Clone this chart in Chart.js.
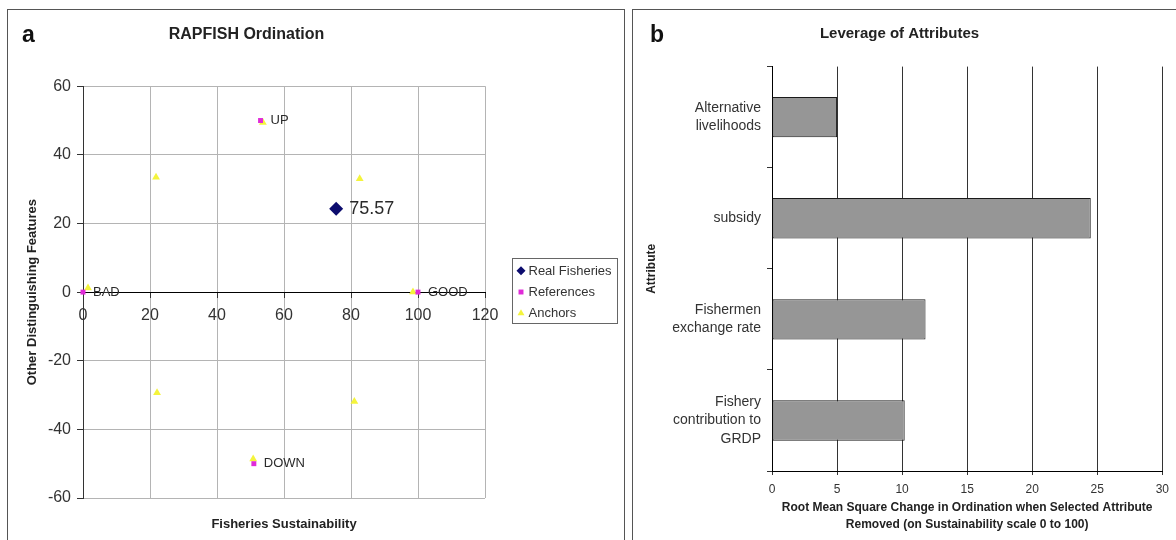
<!DOCTYPE html>
<html lang="en">
<head>
<meta charset="UTF-8">
<title>RAPFISH Ordination and Leverage of Attributes</title>
<script src="https://cdn.jsdelivr.net/npm/chart.js"></script>
<style>
    body {
        margin: 0;
        background: #fff;
        font-family: "Liberation Sans", Arial, sans-serif;
    }
    .panel {
        position: absolute;
        border: 1px solid #555;
        background: #fff;
    }
    .panel canvas {
        display: block;
    }
    .tag {
        position: absolute;
        font-weight: bold;
        font-size: 23px;
        line-height: 23px;
        color: #111;
    }
</style>
</head>
<body>
<div class="panel" style="left:7px; top:9px; width:616px; height:540px;">
    <canvas id="ordination" width="616" height="530"></canvas>
    <div class="tag" style="left:14px; top:13px;">a</div>
</div>
<div class="panel" style="left:632px; top:9px; width:560px; height:540px;">
    <canvas id="leverage" width="543" height="530"></canvas>
    <div class="tag" style="left:17px; top:13px;">b</div>
</div>

<script>
    // ordination (panel a)
    var realX = [75.57];
    var realY = [24.3];
    var realLabels = ['75.57'];

    var refX = [0, 100, 53, 51];
    var refY = [0, 0, 50, -50];
    var refLabels = ['BAD', 'GOOD', 'UP', 'DOWN'];

    var anchorX = [1.5, 98.5, 53.7, 50.8, 21.8, 82.6, 22.1, 81.0];
    var anchorY = [1.2, 0, 49.4, -48.6, 33.5, 33.0, -29.3, -31.9];

    var xTicks = [0, 20, 40, 60, 80, 100, 120];
    var yTicks = [-60, -40, -20, 0, 20, 40, 60];

    // leverage (panel b)
    var attributes = [
        ['Alternative', 'livelihoods'],
        'subsidy',
        ['Fishermen', 'exchange rate'],
        ['Fishery', 'contribution to', 'GRDP']
    ];
    var leverage = [5.0, 24.5, 11.8, 10.2];
    var leverageTicks = [0, 5, 10, 15, 20, 25, 30];

    Chart.defaults.font.family = '"Liberation Sans", Arial, sans-serif';
    Chart.defaults.color = '#333';
    Chart.defaults.animation = false;

    function points(xs, ys) {
        return xs.map(function (x, i) { return { x: x, y: ys[i] }; });
    }

    // text next to the labelled points
    var pointLabels = {
        id: 'pointLabels',
        afterDatasetsDraw: function (chart) {
            var ctx = chart.ctx;
            chart.data.datasets.forEach(function (ds, i) {
                if (!ds.pointLabels) return;
                var meta = chart.getDatasetMeta(i);
                ctx.save();
                ctx.font = ds.labelFont;
                ctx.fillStyle = '#2a2a2a';
                ctx.textBaseline = 'middle';
                ctx.textAlign = 'left';
                meta.data.forEach(function (pt, j) {
                    if (ds.pointLabels[j]) ctx.fillText(ds.pointLabels[j], pt.x + ds.labelGap, pt.y);
                });
                ctx.restore();
            });
        }
    };

    // boxed legend like the Excel one
    var boxedLegend = {
        id: 'boxedLegend',
        afterDraw: function (chart) {
            var ctx = chart.ctx;
            var x0 = 504.5, y0 = 248.5, w = 105, h = 65;
            ctx.save();
            ctx.fillStyle = '#fff';
            ctx.fillRect(x0, y0, w, h);
            ctx.strokeStyle = '#666';
            ctx.lineWidth = 1;
            ctx.strokeRect(x0, y0, w, h);
            ctx.font = '13px "Liberation Sans", Arial, sans-serif';
            ctx.textBaseline = 'middle';
            chart.data.datasets.forEach(function (ds, i) {
                var y = y0 + 12.2 + i * 21.3;
                ctx.fillStyle = ds.backgroundColor;
                Chart.helpers.drawPoint(ctx, { pointStyle: ds.pointStyle, radius: ds.legendRadius, rotation: 0, borderWidth: 0 }, x0 + 8.5, y);
                ctx.fillStyle = '#333';
                ctx.fillText(ds.label, x0 + 16, y + 0.5);
            });
            ctx.restore();
        }
    };

    new Chart(document.getElementById('ordination'), {
        type: 'scatter',
        data: {
            datasets: [{
                label: 'Real Fisheries',
                data: points(realX, realY),
                pointStyle: 'rectRot',
                pointRadius: 7,
                backgroundColor: '#0c0c6e',
                borderWidth: 0,
                legendRadius: 4.5,
                pointLabels: realLabels,
                labelFont: '18px "Liberation Sans", Arial, sans-serif',
                labelGap: 13,
                clip: false
            }, {
                label: 'References',
                data: points(refX, refY),
                pointStyle: 'rect',
                pointRadius: 3.5,
                backgroundColor: '#e02ad8',
                borderWidth: 0,
                legendRadius: 3.5,
                pointLabels: refLabels,
                labelFont: '13px "Liberation Sans", Arial, sans-serif',
                labelGap: 10,
                clip: false
            }, {
                label: 'Anchors',
                data: points(anchorX, anchorY),
                pointStyle: 'triangle',
                pointRadius: 4.5,
                backgroundColor: '#f4f43c',
                borderWidth: 0,
                legendRadius: 4,
                clip: false
            }]
        },
        options: {
            responsive: false,
            layout: { padding: { left: 0, right: 139, top: 0, bottom: 0 } },
            plugins: {
                legend: { display: false },
                tooltip: { enabled: false },
                title: {
                    display: true,
                    text: 'RAPFISH Ordination',
                    color: '#222',
                    font: { size: 16, weight: 'bold' },
                    padding: { top: 15, bottom: 42 }
                },
                subtitle: {
                    display: true,
                    position: 'bottom',
                    fullSize: false,
                    text: 'Fisheries Sustainability',
                    color: '#222',
                    font: { size: 13, weight: 'bold' },
                    padding: { top: 18.2, bottom: 8.2 }
                }
            },
            scales: {
                x: {
                    type: 'linear',
                    position: { y: 0 },
                    min: xTicks[0],
                    max: xTicks[xTicks.length - 1],
                    afterBuildTicks: function (s) { s.ticks = xTicks.map(function (v) { return { value: v }; }); },
                    afterFit: function (s) { s.height = 0; },
                    ticks: { font: { size: 16 }, color: '#333', padding: 9 },
                    grid: {
                        color: function (c) { return c.tick && c.tick.value === 0 ? '#333' : '#b4b4b4'; },
                        tickLength: 5,
                        tickColor: '#333'
                    },
                    border: { color: '#000' }
                },
                y: {
                    type: 'linear',
                    min: yTicks[0],
                    max: yTicks[yTicks.length - 1],
                    afterBuildTicks: function (s) { s.ticks = yTicks.map(function (v) { return { value: v }; }); },
                    afterFit: function (s) { s.width = 75; },
                    ticks: { font: { size: 16 }, color: '#333', padding: 6 },
                    grid: {
                        color: function (c) { return c.tick && c.tick.value === 0 ? '#000' : '#b4b4b4'; },
                        tickLength: 6,
                        tickColor: '#333'
                    },
                    border: { color: '#333' },
                    title: {
                        display: true,
                        text: 'Other Distinguishing Features',
                        color: '#222',
                        font: { size: 13, weight: 'bold' },
                        padding: { top: 16.2, bottom: 0 }
                    }
                }
            }
        },
        plugins: [pointLabels, boxedLegend]
    });

    new Chart(document.getElementById('leverage'), {
        type: 'bar',
        data: {
            labels: attributes,
            datasets: [{
                label: 'Leverage',
                data: leverage,
                backgroundColor: '#969696',
                borderColor: '#1a1a1a',
                borderWidth: 1,
                borderSkipped: false,
                barPercentage: 0.4,
                categoryPercentage: 1
            }]
        },
        options: {
            responsive: false,
            indexAxis: 'y',
            layout: { padding: { left: 0, right: 10, top: 0, bottom: 0 } },
            plugins: {
                legend: { display: false },
                tooltip: { enabled: false },
                title: {
                    display: true,
                    text: 'Leverage of Attributes',
                    color: '#222',
                    font: { size: 15, weight: 'bold' },
                    padding: { top: 14.4, bottom: 24.2 }
                }
            },
            scales: {
                x: {
                    position: 'bottom',
                    min: leverageTicks[0],
                    max: leverageTicks[leverageTicks.length - 1],
                    afterBuildTicks: function (s) { s.ticks = leverageTicks.map(function (v) { return { value: v }; }); },
                    afterFit: function (s) { s.height = 69; },
                    ticks: { font: { size: 12 }, color: '#333', padding: 7 },
                    grid: { color: '#333', tickLength: 4, tickColor: '#333' },
                    border: { color: '#000' },
                    title: {
                        display: true,
                        text: ['Root Mean Square Change in Ordination when Selected Attribute',
                               'Removed (on Sustainability scale 0 to 100)'],
                        color: '#222',
                        font: { size: 12, weight: 'bold', lineHeight: 1.42 },
                        padding: { top: 0, bottom: 6.5 }
                    }
                },
                y: {
                    afterFit: function (s) { s.width = 139; },
                    ticks: { font: { size: 14, lineHeight: 1.3 }, color: '#333', padding: 6, crossAlign: 'near' },
                    grid: { drawOnChartArea: false, tickLength: 5, tickColor: '#333' },
                    border: { color: '#000' },
                    title: {
                        display: true,
                        text: 'Attribute',
                        color: '#222',
                        font: { size: 12, weight: 'bold' },
                        padding: { top: 11.8, bottom: 0 }
                    }
                }
            }
        }
    });
</script>
</body>
</html>
